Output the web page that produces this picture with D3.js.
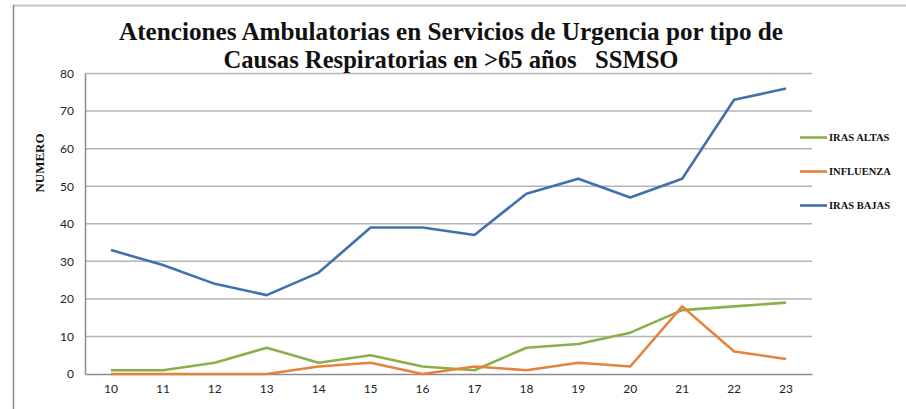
<!DOCTYPE html>
<html>
<head>
  <meta charset="utf-8">
  <title>Atenciones Ambulatorias SSMSO</title>
  <script src="https://d3js.org/d3.v7.min.js"></script>
  <style>
    body { margin: 0; background: #fff; }
    svg { display: block; }
  </style>
</head>
<body>
  <svg id="chart"></svg>

  <script>
    // semanas epidemiologicas
    const weeks = [10, 11, 12, 13, 14, 15, 16, 17, 18, 19, 20, 21, 22, 23];
    const irasAltas = [1, 1, 3, 7, 3, 5, 2, 1, 7, 8, 11, 17, 18, 19];
    const influenza = [0, 0, 0, 0, 2, 3, 0, 2, 1, 3, 2, 18, 6, 4];
    const irasBajas = [33, 29, 24, 21, 27, 39, 39, 37, 48, 52, 47, 52, 73, 76];
    const seriesNames = ["IRAS ALTAS", "INFLUENZA", "IRAS BAJAS"];
    const yTicks = [0, 10, 20, 30, 40, 50, 60, 70, 80];
    const titleLines = [
      "Atenciones Ambulatorias en Servicios de Urgencia por tipo de",
      "Causas Respiratorias en >65 años   SSMSO"
    ];

    const width = 906;
    const height = 409;
    const svg = d3.select("#chart")
      .attr("width", width)
      .attr("height", height);

    // borde del grafico (solo arriba e izquierda se ven)
    svg.append("line")
      .attr("x1", 13).attr("x2", width).attr("y1", 5.5).attr("y2", 5.5)
      .attr("stroke", "#c4c4c4").attr("stroke-width", 2);
    svg.append("line")
      .attr("x1", 13.5).attr("x2", 13.5).attr("y1", 5).attr("y2", height)
      .attr("stroke", "#8a8a8a").attr("stroke-width", 1.5);

    const plot = { left: 85, right: 812, top: 73.5, bottom: 374 };

    const x = d3.scaleBand()
      .domain(weeks)
      .range([plot.left, plot.right]);

    const y = d3.scaleLinear()
      .domain([0, 80])
      .range([plot.bottom, plot.top]);

    // lineas de grilla
    svg.append("g")
      .selectAll("line")
      .data(yTicks.slice(1))
      .join("line")
      .attr("x1", plot.left).attr("x2", plot.right)
      .attr("y1", d => y(d)).attr("y2", d => y(d))
      .attr("stroke", "#b4b4b4").attr("stroke-width", 1.5);

    // ejes
    const yAxis = svg.append("g")
      .attr("transform", `translate(${plot.left},0)`)
      .call(d3.axisLeft(y).tickValues(yTicks).tickSize(0).tickPadding(11));
    const xAxis = svg.append("g")
      .attr("transform", `translate(0,${plot.bottom})`)
      .call(d3.axisBottom(x).tickSize(0).tickPadding(10));

    [yAxis, xAxis].forEach(g => {
      g.select(".domain").attr("stroke", "#8c8c8c").attr("stroke-width", 1.5);
      g.selectAll("text")
        .attr("font-family", "Lato, 'Open Sans', sans-serif")
        .attr("font-size", "12px")
        .attr("fill", "#222");
    });

    // titulo del eje Y
    svg.append("text")
      .attr("transform", "translate(44,163) rotate(-90)")
      .attr("text-anchor", "middle")
      .attr("font-family", "'Liberation Serif', serif")
      .attr("font-weight", "bold")
      .attr("font-size", "13px")
      .attr("fill", "#111")
      .text("NUMERO");

    // titulo
    const titleWidths = [664, 455];
    svg.append("g")
      .selectAll("text")
      .data(titleLines)
      .join("text")
      .attr("x", 451)
      .attr("y", (d, i) => 40 + i * 28)
      .attr("text-anchor", "middle")
      .attr("font-family", "'Liberation Serif', serif")
      .attr("font-weight", "bold")
      .attr("font-size", "25px")
      .attr("fill", "#111")
      .style("white-space", "pre")
      .attr("textLength", (d, i) => titleWidths[i])
      .attr("lengthAdjust", "spacingAndGlyphs")
      .text(d => d);

    const seriesValues = [irasAltas, influenza, irasBajas];
    const colors = ["#8cae4b", "#e5833b", "#4170ad"];

    const line = d3.line()
      .x((d, i) => x(weeks[i]) + x.bandwidth() / 2)
      .y(d => y(d));

    svg.append("g")
      .selectAll("path")
      .data(seriesValues)
      .join("path")
      .attr("d", d => line(d))
      .attr("fill", "none")
      .attr("stroke", (d, i) => colors[i])
      .attr("stroke-width", 2.6)
      .attr("stroke-linejoin", "round");

    // leyenda
    const legend = svg.append("g")
      .selectAll("g")
      .data(seriesNames)
      .join("g")
      .attr("transform", (d, i) => `translate(800,${137.5 + i * 34})`);

    legend.append("line")
      .attr("x1", 0).attr("x2", 27)
      .attr("stroke", (d, i) => colors[i])
      .attr("stroke-width", 2.6);

    legend.append("text")
      .attr("x", 29)
      .attr("dy", "0.35em")
      .attr("font-family", "'Liberation Serif', serif")
      .attr("font-weight", "bold")
      .attr("font-size", "10.5px")
      .attr("fill", "#111")
      .text(d => d);
  </script>
</body>
</html>
